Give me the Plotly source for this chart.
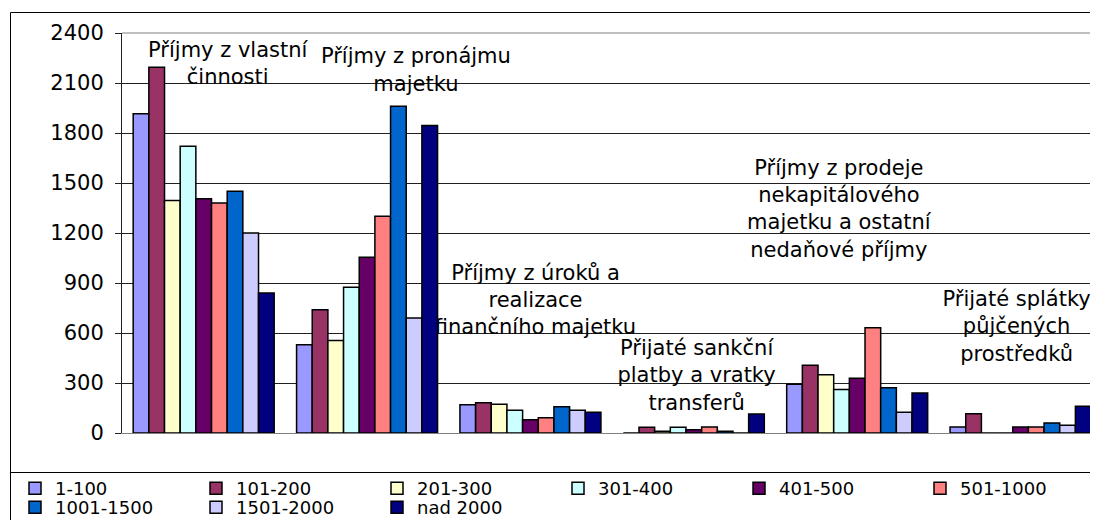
import plotly.graph_objects as go

# ---------------- data ----------------
categories = [
    "Příjmy z vlastní činnosti",
    "Příjmy z pronájmu majetku",
    "Příjmy z úroků a realizace finančního majetku",
    "Přijaté sankční platby a vratky transferů",
    "Příjmy z prodeje nekapitálového majetku a ostatní nedaňové příjmy",
    "Přijaté splátky půjčených prostředků",
]
category_labels = [
    "Příjmy z vlastní<br>činnosti",
    "Příjmy z pronájmu<br>majetku",
    "Příjmy z úroků a<br>realizace<br>finančního majetku",
    "Přijaté sankční<br>platby a vratky<br>transferů",
    "Příjmy z prodeje<br>nekapitálového<br>majetku a ostatní<br>nedaňové příjmy",
    "Přijaté splátky<br>půjčených<br>prostředků",
]
series_names = ["1-100", "101-200", "201-300", "301-400", "401-500",
                "501-1000", "1001-1500", "1501-2000", "nad 2000"]

v_1_100     = [1915,  530, 170,   0, 293,  36]
v_101_200   = [2195,  740, 182,  34, 407, 116]
v_201_300   = [1395,  555, 172,  10, 349,   0]
v_301_400   = [1720,  875, 137,  34, 261,   0]
v_401_500   = [1405, 1055,  80,  20, 329,  36]
v_501_1000  = [1380, 1300,  91,  36, 631,  36]
v_1001_1500 = [1450, 1960, 158,  10, 271,  60]
v_1501_2000 = [1200,  690, 137,   0, 124,  46]
v_nad_2000  = [ 840, 1845, 125, 114, 240, 160]

series_values = [v_1_100, v_101_200, v_201_300, v_301_400, v_401_500,
                 v_501_1000, v_1001_1500, v_1501_2000, v_nad_2000]

y_ticks = [0, 300, 600, 900, 1200, 1500, 1800, 2100, 2400]

# ---------------- styling ----------------
colors = ["#9999FF", "#993366", "#FFFFCC", "#CCFFFF", "#660066",
          "#FF8080", "#0066CC", "#CCCCFF", "#000080"]
FONT = "DejaVu Sans"

# label anchor points (centre of each text block, in axis units)
label_x = [0.147, 1.299, 2.031, 3.017, 3.888, 4.976]
label_y = [2208, 2168, 788, 335, 1335, 630]

# page body has an 8px margin -> figure sized to fill the rest of the window
OFF = 8
W, H = 1098 - OFF, 520 - OFF
ML, MR, MT, MB = 122 - OFF, 0, 33 - OFF, 520 - 433
PW, PH = W - ML - MR, H - MT - MB
X_RANGE = [-0.5, 5.474]


def px_x(p):  # window pixel -> paper x
    return (p - OFF - ML) / PW


def px_y(p):  # window pixel -> paper y
    return (H - MB - (p - OFF)) / PH


fig = go.Figure()

# category texts on the base subplot (drawn beneath the bars)
fig.add_trace(go.Scatter(
    x=label_x, y=label_y, text=category_labels, mode="text",
    textposition="middle center",
    textfont=dict(family=FONT, size=21, color="black"),
    showlegend=False, hoverinfo="skip", xaxis="x", yaxis="y",
))

for i, (name, vals) in enumerate(zip(series_names, series_values)):
    fig.add_trace(go.Bar(
        x=categories, y=vals, name=name,
        marker=dict(color=colors[i], line=dict(color="black", width=1.5)),
        xaxis="x2", yaxis="y2",
        legend="legend" if i < 6 else "legend2",
    ))

legend_common = dict(
    orientation="h", xref="paper", yref="paper", xanchor="left", yanchor="top",
    font=dict(family=FONT, size=18, color="black"),
    bgcolor="rgba(0,0,0,0)", borderwidth=0,
    entrywidth=136, entrywidthmode="pixels", traceorder="normal",
)

fig.update_layout(
    width=W, height=H,
    margin=dict(l=ML, r=MR, t=MT, b=MB, autoexpand=False),
    paper_bgcolor="white", plot_bgcolor="white",
    barmode="group", bargap=0.137, bargroupgap=0,
    font=dict(family=FONT, color="black"),
    xaxis=dict(range=X_RANGE, showticklabels=False, ticks="", showgrid=False,
               zeroline=False, showline=True, linecolor="#808080", linewidth=1),
    yaxis=dict(range=[0, 2400], tickvals=y_ticks, ticktext=[str(t) for t in y_ticks],
               showgrid=True, gridcolor="#202020", gridwidth=1, zeroline=False,
               showline=True, linecolor="#202020", linewidth=1,
               ticks="outside", ticklen=6, tickcolor="#202020",
               ticklabelstandoff=7,
               tickfont=dict(family=FONT, size=21, color="black")),
    xaxis2=dict(overlaying="x", range=X_RANGE, visible=False, type="category",
                categoryorder="array", categoryarray=categories),
    yaxis2=dict(overlaying="y", range=[0, 2400], visible=False),
    legend=dict(x=px_x(15), y=px_y(470), **legend_common),
    legend2=dict(x=px_x(15), y=px_y(489), **legend_common),
    showlegend=True,
    shapes=[
        # top border of plot area (grey)
        dict(type="line", xref="paper", yref="paper", x0=0, x1=1.01, y0=1, y1=1,
             line=dict(color="#808080", width=1)),
        # chart area outer border (left + top)
        dict(type="line", xref="paper", yref="paper", x0=px_x(10.5), x1=px_x(10.5),
             y0=px_y(12.5), y1=px_y(540), line=dict(color="black", width=1)),
        dict(type="line", xref="paper", yref="paper", x0=px_x(10.5), x1=px_x(1110),
             y0=px_y(12.5), y1=px_y(12.5), line=dict(color="black", width=1)),
        # legend box
        dict(type="rect", xref="paper", yref="paper", x0=px_x(10.5), x1=px_x(1090.5),
             y0=px_y(472.5), y1=px_y(540), line=dict(color="black", width=1),
             fillcolor="rgba(0,0,0,0)"),
    ],
)

fig.write_html("out.html")
